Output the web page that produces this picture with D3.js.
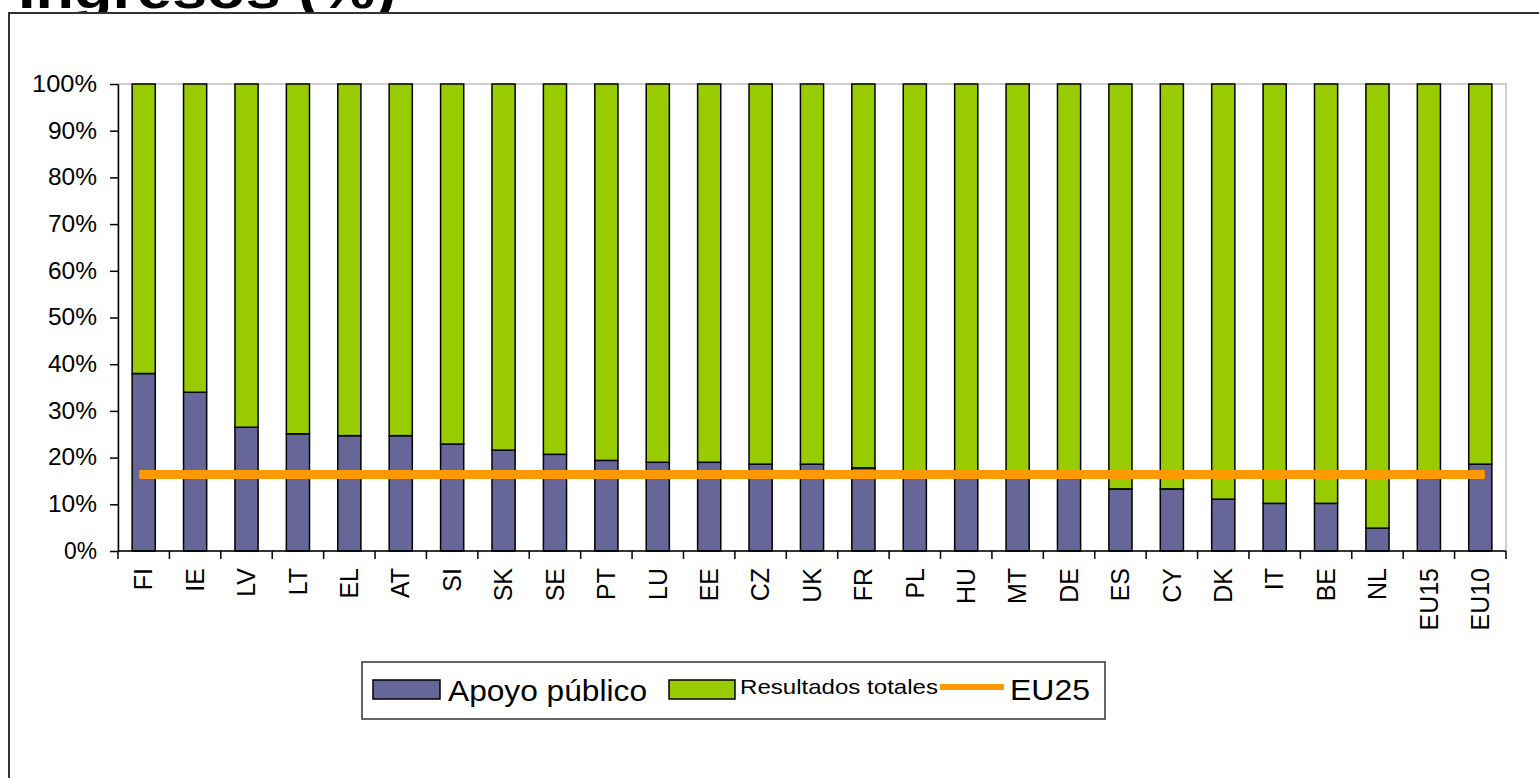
<!DOCTYPE html>
<html>
<head>
<meta charset="utf-8">
<script src="https://cdn.jsdelivr.net/npm/d3@7"></script>
<style>
  html, body { margin: 0; padding: 0; background: #fff; }
  svg { display: block; font-family: "Liberation Sans", Arial, sans-serif; }
</style>
</head>
<body>
<svg id="chart" width="1539" height="778"></svg>
<script>
// Categories (countries, then EU aggregates)
var categories = ["FI","IE","LV","LT","EL","AT","SI","SK","SE","PT","LU","EE","CZ","UK",
                  "FR","PL","HU","MT","DE","ES","CY","DK","IT","BE","NL","EU15","EU10"];
// Apoyo público share (%)
var apoyo = [38.0,34.0,26.5,25.1,24.7,24.7,22.9,21.6,20.7,19.4,19.0,19.0,18.6,18.6,
             17.8,16.8,16.5,16.3,16.2,13.3,13.3,11.1,10.2,10.2,4.9,16.0,18.6];
// Resultados totales share (%)
var resultados = [62.0,66.0,73.5,74.9,75.3,75.3,77.1,78.4,79.3,80.6,81.0,81.0,81.4,81.4,
                  82.2,83.2,83.5,83.7,83.8,86.7,86.7,88.9,89.8,89.8,95.1,84.0,81.4];
// EU25 reference (%)
var eu25 = 16.4;
var yTicks = [0,10,20,30,40,50,60,70,80,90,100];
var seriesNames = ["Apoyo público", "Resultados totales", "EU25"];

var colBlue = "#666699", colGreen = "#99cc00", colOrange = "#ff9900";

var svg = d3.select("#chart");

// title, mostly cut off by the frame
svg.append("text")
  .attr("x", 18).attr("y", 8)
  .style("font-size", "52px").style("font-weight", "bold")
  .attr("textLength", 378).attr("lengthAdjust", "spacingAndGlyphs")
  .text("Ingresos (%)");

// outer frame
svg.append("rect")
  .attr("x", 9).attr("y", 13).attr("width", 1545).attr("height", 790)
  .attr("fill", "#fff").attr("stroke", "#333").attr("stroke-width", 2);

var margin_left = 118, plot_right = 1506, plot_top = 84, plot_bottom = 551;

var x = d3.scaleBand()
  .domain(categories)
  .range([margin_left, plot_right])
  .paddingInner(0.55)
  .paddingOuter(0.275);
var y = d3.scaleLinear()
  .domain([0, 100])
  .range([plot_bottom, plot_top]);

// plot area frame (grey)
svg.append("rect")
  .attr("x", margin_left).attr("y", y(100))
  .attr("width", plot_right - margin_left).attr("height", y(0) - y(100))
  .attr("fill", "none").attr("stroke", "#c0c0c0").attr("stroke-width", 1.5);

// stacked bars
var rows = categories.map(function(c, i) {
  return {cat: c, apoyo: apoyo[i], resultados: resultados[i]};
});
var stack = d3.stack().keys(["apoyo", "resultados"])(rows);
var colors = {apoyo: colBlue, resultados: colGreen};

svg.append("g").selectAll("g")
  .data(stack)
  .enter().append("g")
  .attr("fill", function(s) { return colors[s.key]; })
  .selectAll("rect")
  .data(function(s) { return s; })
  .enter().append("rect")
  .attr("x", function(d) { return x(d.data.cat); })
  .attr("y", function(d) { return y(d[1]); })
  .attr("width", x.bandwidth())
  .attr("height", function(d) { return y(d[0]) - y(d[1]); })
  .attr("stroke", "#000")
  .attr("stroke-width", 1.5);

// EU25 line
svg.append("path")
  .attr("d", d3.line()
    .x(function(c) { return x(c) + x.bandwidth() / 2; })
    .y(function() { return y(eu25); })
    (categories))
  .attr("fill", "none")
  .attr("stroke", colOrange)
  .attr("stroke-width", 9)
  .attr("stroke-linecap", "square");

// Axes
var yAxis = svg.append("g")
  .attr("transform", "translate(" + margin_left + ",0)")
  .call(d3.axisLeft(y).tickValues(yTicks).tickFormat(function(d) { return d + "%"; })
    .tickSize(8).tickSizeOuter(0).tickPadding(13));
yAxis.selectAll("text").style("font-size", "23px").attr("fill", "#000")
  .attr("lengthAdjust", "spacingAndGlyphs")
  .each(function(d) {
    var n = String(d).length + 1;
    d3.select(this).attr("textLength", n === 4 ? 65 : (n === 3 ? 49 : 33));
  });
yAxis.selectAll("line, path").attr("stroke", "#000").attr("stroke-width", 1.5);

// bottom axis line with ticks at band boundaries
var xAxis = svg.append("g");
xAxis.append("line")
  .attr("x1", margin_left).attr("x2", plot_right)
  .attr("y1", y(0)).attr("y2", y(0))
  .attr("stroke", "#000").attr("stroke-width", 1.5);
xAxis.selectAll("line.tick")
  .data(d3.range(categories.length + 1))
  .enter().append("line")
  .classed("tick", true)
  .attr("x1", function(i) { return x.range()[0] + i * x.step(); })
  .attr("x2", function(i) { return x.range()[0] + i * x.step(); })
  .attr("y1", y(0)).attr("y2", y(0) + 8)
  .attr("stroke", "#000").attr("stroke-width", 1.5);
xAxis.selectAll("text")
  .data(categories)
  .enter().append("text")
  .attr("transform", function(c) {
    return "translate(" + (x(c) + x.bandwidth() / 2) + "," + (y(0) + 17) + ") rotate(-90)";
  })
  .attr("text-anchor", "end")
  .attr("dy", "0.35em")
  .style("font-size", "25px")
  .text(function(c) { return c; });

// Legend
var legend = svg.append("g");
legend.append("rect")
  .attr("x", 362).attr("y", 662).attr("width", 743).attr("height", 57)
  .attr("fill", "#fff").attr("stroke", "#333").attr("stroke-width", 1.5);
legend.append("rect")
  .attr("x", 373).attr("y", 680).attr("width", 67).attr("height", 19)
  .attr("fill", colBlue).attr("stroke", "#000").attr("stroke-width", 1.5);
legend.append("text")
  .attr("x", 448).attr("y", 701)
  .style("font-size", "29px")
  .attr("textLength", 199).attr("lengthAdjust", "spacingAndGlyphs")
  .text(seriesNames[0]);
legend.append("rect")
  .attr("x", 669).attr("y", 680).attr("width", 66).attr("height", 19)
  .attr("fill", colGreen).attr("stroke", "#000").attr("stroke-width", 1.5);
legend.append("text")
  .attr("x", 740).attr("y", 694)
  .style("font-size", "21px")
  .attr("textLength", 198).attr("lengthAdjust", "spacingAndGlyphs")
  .text(seriesNames[1]);
legend.append("line")
  .attr("x1", 940).attr("x2", 1004).attr("y1", 687).attr("y2", 687)
  .attr("stroke", colOrange).attr("stroke-width", 6);
legend.append("text")
  .attr("x", 1010).attr("y", 700)
  .style("font-size", "29px")
  .attr("textLength", 80).attr("lengthAdjust", "spacingAndGlyphs")
  .text(seriesNames[2]);
</script>
</body>
</html>
